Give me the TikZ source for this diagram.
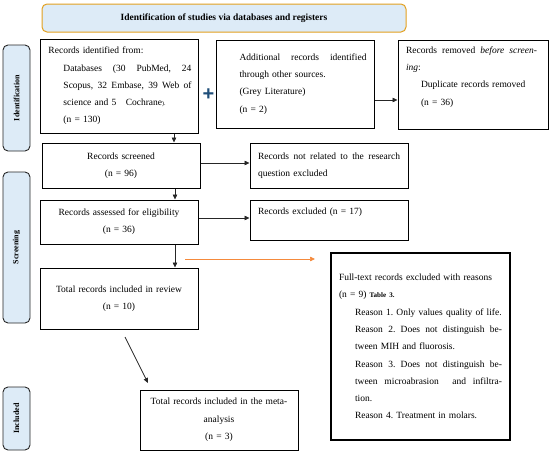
\documentclass[tikz,border=0pt]{standalone}
\usepackage{fontspec}
\setmainfont{Liberation Serif}
\newfontfamily\plusfont{Liberation Sans}
\usetikzlibrary{arrows.meta}
\definecolor{hdrfill}{HTML}{DDEBF7}
\definecolor{hdrline}{HTML}{E3A01E}
\definecolor{plusblue}{HTML}{1F4E79}
\definecolor{arrorange}{HTML}{F58A3C}
\newcommand{\jl}[2]{\hbox to #1pt{\spaceskip=0.25em plus 1fil\relax #2}}
\newcommand{\ind}{\hspace*{15pt}}
\begin{document}
\begin{tikzpicture}[x=1pt,y=-1pt,
  box/.style={draw=black,line width=1pt,inner ysep=0pt,inner xsep=8pt,
    font=\fontsize{9.5}{17.3}\selectfont\frenchspacing},
  side/.style={draw=black!85,line width=0.9pt,fill=hdrfill,rounded corners=5pt,
    rotate=90,minimum height=27pt,inner sep=0pt,
    font=\fontsize{8}{9}\selectfont\bfseries},
  arr/.style={-{Triangle[length=5pt,width=4.5pt]},line width=0.7pt,draw=black!85},
  oarr/.style={-{Triangle[length=5pt,width=4.5pt]},line width=0.7pt,draw=arrorange}]
\useasboundingbox (0,0) rectangle (550,455);

% header
\node[draw=hdrline,line width=1pt,fill=hdrfill,rounded corners=5pt,
  minimum width=364pt,minimum height=28pt,inner sep=0pt,
  font=\fontsize{9.5}{11}\selectfont\bfseries] (hdr) at (224,18)
  {Identification of studies via databases and registers};

% side labels
\node[side,minimum width=106pt] (sid) at (16.5,98) {Identification};
\node[side,minimum width=151pt] (ssc) at (16.5,247.5) {Screening};
\node[side,minimum width=63pt] (sin) at (16.5,418.5) {Included};

% boxes
\node[box,minimum width=158pt,minimum height=94pt,text width=142pt,align=left] (b1) at (119.5,86)
 {Records identified from:\\
  \ind\jl{128}{Databases (30 PubMed, 24}\\
  \ind\jl{128}{Scopus, 32 Embase, 39 Web of}\\
  \ind science and 5 \ \ Cochrane{\fontsize{6}{7}\selectfont).}\\
  \ind (n = 130)};

\node[font=\plusfont\bfseries\fontsize{20}{20}\selectfont,text=plusblue,inner sep=0pt] (plus) at (208.5,95) {+};

\node[box,minimum width=158pt,minimum height=88pt,text width=142pt,align=left] (b2) at (295.5,84)
 {\ind\jl{127}{Additional records identified}\\
  \ind through other sources.\\
  \ind (Grey Literature)\\
  \ind (n = 2)};

\node[box,minimum width=150pt,minimum height=89pt,text width=134pt,align=left] (b3) at (473,84.5)
 {\jl{131}{Records removed \textit{before screen-}}\\
  \textit{ing}:\\
  \ind Duplicate records removed\\
  \ind (n = 36)\\
  \mbox{}};

\node[box,minimum width=158pt,minimum height=45pt,text width=142pt,align=center] (scr) at (121,165.5)
 {Records screened\\(n = 96)};

\node[box,minimum width=158pt,minimum height=45pt,text width=142pt,align=left] (nr) at (329,165.5)
 {\jl{142}{Records not related to the research}\\question excluded};

\node[box,minimum width=158pt,minimum height=44pt,text width=142pt,align=center] (el) at (119,222)
 {Records assessed for eligibility\\(n = 36)};

\node[box,minimum width=158pt,minimum height=40pt,text width=142pt,align=left] (ex) at (329,220)
 {Records excluded (n = 17)\\\mbox{}};

\node[box,minimum width=158pt,minimum height=61pt,text width=142pt,align=center] (rv) at (119,298.5)
 {Total records included in review\\(n = 10)};

\node[box,line width=1.1pt,minimum width=179pt,minimum height=187pt,text width=163pt,align=left] (ft) at (420.5,346.5)
 {\mbox{Full-text records excluded with reasons}\\
  \mbox{(n = 9) {\fontsize{7}{8}\selectfont\bfseries Table 3.}}\\
  \hspace*{16pt}\mbox{Reason 1. Only values quality of life.}\\
  \hspace*{16pt}\jl{147}{Reason 2. Does not distinguish be-}\\
  \hspace*{16pt}\mbox{tween MIH and fluorosis.}\\
  \hspace*{16pt}\jl{147}{Reason 3. Does not distinguish be-}\\
  \hspace*{16pt}\jl{147}{tween microabrasion \ and infiltra-}\\
  \hspace*{16pt}tion.\\
  \hspace*{16pt}\mbox{Reason 4. Treatment in molars.}};

\node[box,minimum width=158pt,minimum height=60pt,text width=142pt,align=center] (mt) at (219,420)
 {Total records included in the meta-\\analysis\\(n = 3)};

% connector helpers
\coordinate (c1) at (174,0);
\coordinate (c2) at (175,0);
\coordinate (y1) at (0,100);
\coordinate (y2) at (0,163);
\coordinate (y3) at (0,218);
\coordinate (o1) at (185,259);
\coordinate (o2) at (315,259);
\coordinate (d1) at (125,337);
\coordinate (d2) at (148,383);

% connectors
\draw[arr] (b1.south -| c1) -- (scr.north -| c1);
\draw[arr] (scr.south -| c2) -- (el.north -| c2);
\draw[arr] (el.south -| c2) -- (rv.north -| c2);
\draw[arr] (b2.east |- y1) -- (b3.west |- y1);
\draw[arr] (scr.east |- y2) -- (nr.west |- y2);
\draw[arr] (el.east |- y3) -- (ex.west |- y3);
\draw[oarr] (o1) -- (o2);
\draw[arr] (d1) -- (d2);
\end{tikzpicture}
\end{document}
